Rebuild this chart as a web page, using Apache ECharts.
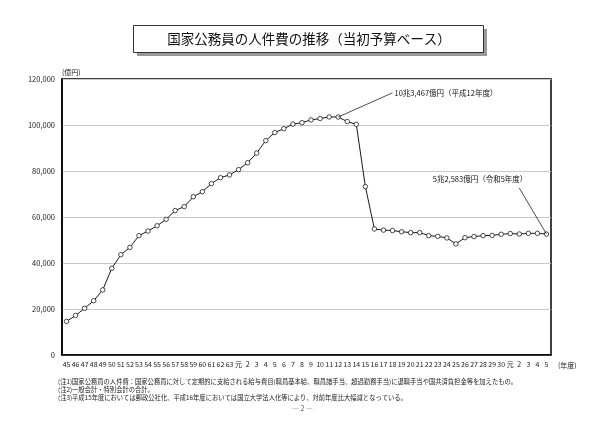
<!DOCTYPE html>
<html>
<head>
<meta charset="utf-8">
<script src="https://cdn.jsdelivr.net/npm/echarts@6/dist/echarts.min.js"></script>
<style>
html, body { margin: 0; padding: 0; background: #fff; }
#chart { width: 605px; height: 427px; }
</style>
</head>
<body>
<div id="chart"></div>
<script>
var font = '"Noto Sans CJK JP", "Noto Sans", sans-serif';

// 年度 (昭和45〜63, 平成元〜30, 令和元〜5)
var years = ['45','46','47','48','49','50','51','52','53','54','55','56','57','58','59','60','61','62','63',
    '元','2','3','4','5','6','7','8','9','10','11','12','13','14','15','16','17','18','19','20','21','22',
    '23','24','25','26','27','28','29','30','元','2','3','4','5'];

// 人件費 (億円, 当初予算ベース)
var costs = [14600, 17200, 20300, 23600, 28300, 37700, 43600, 46800, 51900, 53900, 56200, 59000, 62800,
    64500, 68800, 71000, 74500, 77100, 78300, 80600, 83600, 87800, 93200, 96700, 98400, 100400, 101000,
    102200, 102800, 103500, 103467, 101500, 100300, 73200, 54800, 54300, 54100, 53600, 53200, 53200,
    51900, 51600, 50900, 48300, 51000, 51500, 51900, 52000, 52500, 52800, 52600, 52900, 52900, 52583];

var yTicks = [0, 20000, 40000, 60000, 80000, 100000, 120000];

var notes = [
    '(注1)国家公務員の人件費：国家公務員に対して定期的に支給される給与費目(職員基本給、職員諸手当、超過勤務手当)に退職手当や国共済負担金等を加えたもの。',
    '(注2)一般会計・特別会計の合計。',
    '(注3)平成15年度においては郵政公社化、平成16年度においては国立大学法人化等により、対前年度比大幅減となっている。'
];

var peakIdx = 30, lastIdx = years.length - 1;

var myChart = echarts.init(document.getElementById('chart'));
var option = {
    backgroundColor: '#fff',
    animation: false,
    textStyle: { fontFamily: font },
    grid: {
        left: 62, right: 54, top: 79, bottom: 72,
        show: true, borderColor: '#000', borderWidth: 1.5
    },
    xAxis: {
        type: 'category',
        data: years,
        name: '(年度)',
        nameLocation: 'end',
        nameGap: 7,
        nameTextStyle: { fontSize: 7, color: '#222', verticalAlign: 'top', padding: [7, 0, 0, 0] },
        axisLine: { lineStyle: { color: '#000', width: 1.5 } },
        axisTick: { inside: true, length: 3, lineStyle: { color: '#000' } },
        axisLabel: { interval: 0, fontSize: 7, color: '#222', margin: 6 }
    },
    yAxis: {
        type: 'value',
        min: 0, max: 120000, interval: 20000,
        name: '(億円)',
        nameLocation: 'end',
        nameGap: 3,
        nameTextStyle: { fontSize: 7, color: '#222', align: 'left' },
        axisLine: { show: true, lineStyle: { color: '#000', width: 1.5 } },
        axisTick: { show: false },
        axisLabel: {
            fontSize: 7.5, color: '#222', margin: 7,
            formatter: function (v) { return yTicks.indexOf(v) >= 0 ? v.toLocaleString('en-US') : ''; }
        },
        splitLine: { lineStyle: { color: '#c8c8c8', width: 1 } }
    },
    series: [{
        type: 'line',
        data: costs,
        symbol: 'circle',
        symbolSize: 4.5,
        itemStyle: { color: '#fff', borderColor: '#000', borderWidth: 0.7 },
        lineStyle: { color: '#000', width: 0.9 },
        z: 3,
        markLine: {
            silent: true,
            symbol: 'none',
            lineStyle: { color: '#000', width: 0.7, type: 'solid' },
            label: { show: false },
            data: [
                [{ coord: [peakIdx, costs[peakIdx]] }, { coord: [36, 114000] }],
                [{ coord: [lastIdx, costs[lastIdx]] }, { coord: [50, 72600] }]
            ]
        },
        markPoint: {
            silent: true,
            symbol: 'circle',
            symbolSize: 0,
            data: [
                { coord: [36, 114000], label: { show: true, position: 'right', distance: 2,
                    formatter: '10兆3,467億円（平成12年度）', fontSize: 7.5, color: '#111' } },
                { coord: [50, 72600], label: { show: true, position: 'left', distance: 0, offset: [8, -9],
                    formatter: '5兆2,583億円（令和5年度）', fontSize: 7.5, color: '#111' } }
            ]
        }
    }],
    graphic: [
        { type: 'rect', left: 137, top: 29, shape: { width: 350, height: 27 }, style: { fill: '#9a9a9a' } },
        { type: 'rect', left: 133, top: 25, shape: { width: 350, height: 27 }, style: { fill: '#fff', stroke: '#333', lineWidth: 1 } },
        { type: 'text', x: 309, y: 39, style: { text: '国家公務員の人件費の推移（当初予算ベース）', fontSize: 13.5, fill: '#111', fontFamily: font, align: 'center', verticalAlign: 'middle' } },
        { type: 'text', left: 58, top: 378, style: { text: notes[0], fontSize: 6.3, fill: '#222', fontFamily: font } },
        { type: 'text', left: 58, top: 386, style: { text: notes[1], fontSize: 6.3, fill: '#222', fontFamily: font } },
        { type: 'text', left: 58, top: 394, style: { text: notes[2], fontSize: 6.3, fill: '#222', fontFamily: font } },
        { type: 'text', left: 'center', top: 405, style: { text: '― 2 ―', fontSize: 7, fill: '#555', fontFamily: font } }
    ]
};
myChart.setOption(option);
</script>
</body>
</html>
